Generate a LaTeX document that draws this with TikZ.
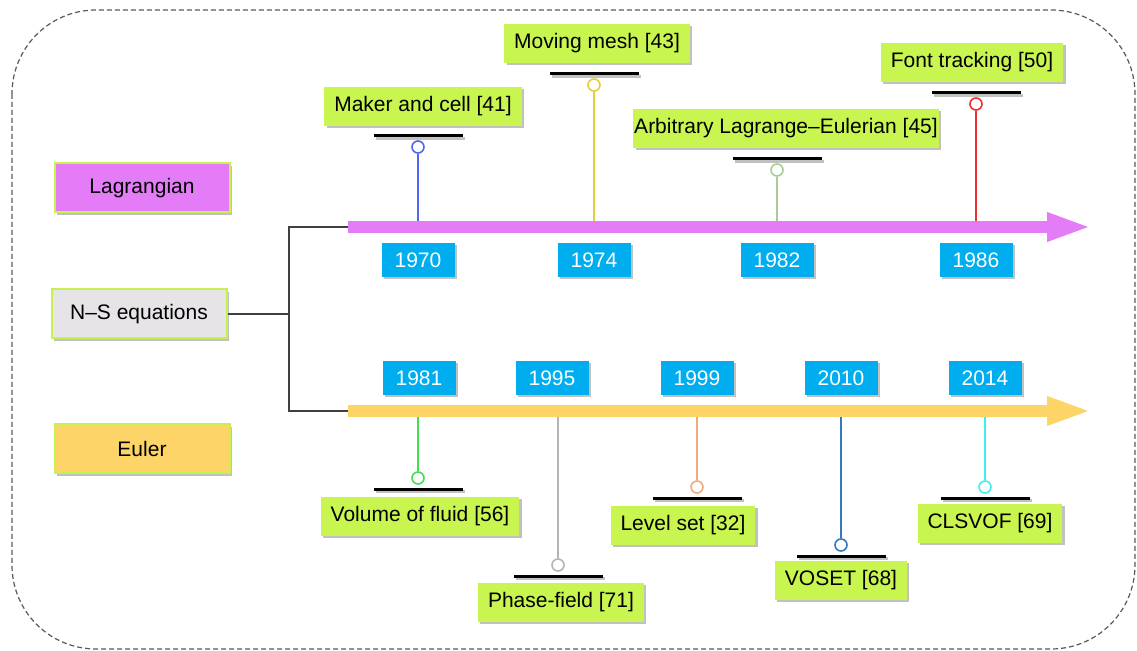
\documentclass[tikz,border=0pt]{standalone}
\usepackage{fontspec}
\setmainfont{Liberation Sans}
\usepackage{tikz}
\usetikzlibrary{positioning,arrows.meta,shadows}
\definecolor{lagcol}{HTML}{E47CF8}
\definecolor{eulcol}{HTML}{FCD468}
\definecolor{nscol}{HTML}{E6E4E6}
\definecolor{boxrim}{HTML}{C8F050}
\definecolor{yearcol}{HTML}{00AEEF}
\definecolor{methodcol}{HTML}{C8F550}
\definecolor{c1970}{HTML}{5068F0}
\definecolor{c1974}{HTML}{E0D040}
\definecolor{c1982}{HTML}{A8CC98}
\definecolor{c1986}{HTML}{EE3030}
\definecolor{c1981}{HTML}{40E050}
\definecolor{c1995}{HTML}{B4B4B4}
\definecolor{c1999}{HTML}{F0AA80}
\definecolor{c2010}{HTML}{3478C0}
\definecolor{c2014}{HTML}{40EEEE}
\tikzset{
  timeline/.style={x=0.5pt,y=-0.5pt,font=\fontsize{10.5}{12}\selectfont},
  outline/.style={draw=black!65,dash pattern=on 2.5pt off 1.5pt,rounded corners=42pt,line width=0.6pt},
  boxshadow/.style={drop shadow={shadow xshift=1.2pt,shadow yshift=-1.2pt,opacity=0.35,fill=black!70}},
  category/.style={rectangle,draw=boxrim,line width=1pt,minimum width=87.5pt,minimum height=24.5pt,boxshadow},
  year/.style={rectangle,fill=yearcol,text=white,minimum width=36.5pt,minimum height=17pt,inner sep=0pt,boxshadow},
  method/.style={rectangle,fill=methodcol,minimum height=19.5pt,inner xsep=5pt,inner ysep=0pt,boxshadow},
  event/.style={circle,draw,fill=white,line width=0.8pt,minimum size=6pt,inner sep=0pt},
  dateline/.style={rectangle,fill=black,minimum width=44.5pt,minimum height=1.5pt,inner sep=0pt,boxshadow},
  stem/.style={line width=1.1pt},
  branch/.style={draw=black!75,line width=0.7pt},
  era/.style={line width=6pt,-{Triangle[length=22.5pt,width=13pt]}}
}
\begin{document}
\begin{tikzpicture}[timeline]
  \useasboundingbox (0,0) rectangle (1137,651);
  \draw[outline] (12,10) rectangle (1135,649);

  \node[category,fill=lagcol] (lag) at (142,188) {Lagrangian};
  \node[category,fill=nscol] (ns) at (139,314) {N--S equations};
  \node[category,fill=eulcol] (eul) at (142,449) {Euler};

  \coordinate (fork) at (289,314);
  \coordinate (lagstart) at (348,227);
  \coordinate (lagend) at (1092,227);
  \coordinate (eulstart) at (348,411);
  \coordinate (eulend) at (1092,411);

  \node[event,draw=c1970] (e1970) at (418,147) {};
  \node[event,draw=c1974] (e1974) at (594,85) {};
  \node[event,draw=c1982] (e1982) at (777,170) {};
  \node[event,draw=c1986] (e1986) at (976,104) {};
  \node[event,draw=c1981] (e1981) at (418,478) {};
  \node[event,draw=c1995] (e1995) at (558,565) {};
  \node[event,draw=c1999] (e1999) at (697,487) {};
  \node[event,draw=c2010] (e2010) at (841,545) {};
  \node[event,draw=c2014] (e2014) at (985,487) {};

  \draw[stem,c1970] (e1970) -- (e1970 |- lagstart);
  \draw[stem,c1974] (e1974) -- (e1974 |- lagstart);
  \draw[stem,c1982] (e1982) -- (e1982 |- lagstart);
  \draw[stem,c1986] (e1986) -- (e1986 |- lagstart);
  \draw[stem,c1981] (e1981) -- (e1981 |- eulstart);
  \draw[stem,c1995] (e1995) -- (e1995 |- eulstart);
  \draw[stem,c1999] (e1999) -- (e1999 |- eulstart);
  \draw[stem,c2010] (e2010) -- (e2010 |- eulstart);
  \draw[stem,c2014] (e2014) -- (e2014 |- eulstart);

  \draw[branch] (ns.east) -- (fork);
  \draw[branch] (fork) |- (lagstart);
  \draw[branch] (fork) |- (eulstart);
  \draw[era,lagcol] (lagstart) -- (lagend);
  \draw[era,eulcol] (eulstart) -- (eulend);

  \node[year] (y1970) at (418,260) {1970};
  \node[year] (y1974) at (594,260) {1974};
  \node[year] (y1982) at (777,260) {1982};
  \node[year] (y1986) at (976,260) {1986};
  \node[year] (y1981) at (419,378) {1981};
  \node[year] (y1995) at (552,378) {1995};
  \node[year] (y1999) at (697,378) {1999};
  \node[year] (y2010) at (841,378) {2010};
  \node[year] (y2014) at (985,378) {2014};

  \node[dateline,above=1.25pt of e1970] (d1970) {};
  \node[dateline,above=1.25pt of e1974] (d1974) {};
  \node[dateline,above=1.25pt of e1982] (d1982) {};
  \node[dateline,above=1.25pt of e1986] (d1986) {};
  \node[dateline,below=1.25pt of e1981] (d1981) {};
  \node[dateline,below=1.25pt of e1995] (d1995) {};
  \node[dateline,below=1.25pt of e1999] (d1999) {};
  \node[dateline,below=1.25pt of e2010] (d2010) {};
  \node[dateline,below=1.25pt of e2014] (d2014) {};

  \node[method,above=3.75pt of d1970,xshift=2.5pt] (m1970) {Maker and cell [41]};
  \node[method,above=4.25pt of d1974,xshift=1.5pt] (m1974) {Moving mesh [43]};
  \node[method,above=4.25pt of d1982,xshift=4.5pt,inner xsep=0.5pt] (m1982) {Arbitrary Lagrange--Eulerian [45]};
  \node[method,above=4.25pt of d1986,xshift=-2pt] (m1986) {Font tracking [50]};
  \node[method,below=2.75pt of d1981,xshift=1pt] (m1981) {Volume of fluid [56]};
  \node[method,below=2.25pt of d1995,xshift=1.5pt] (m1995) {Phase-field [71]};
  \node[method,below=2.75pt of d1999,xshift=-7pt] (m1999) {Level set [32]};
  \node[method,below=1.25pt of d2010] (m2010) {VOSET [68]};
  \node[method,below=1.75pt of d2014,xshift=2.5pt] (m2014) {CLSVOF [69]};
\end{tikzpicture}
\end{document}
